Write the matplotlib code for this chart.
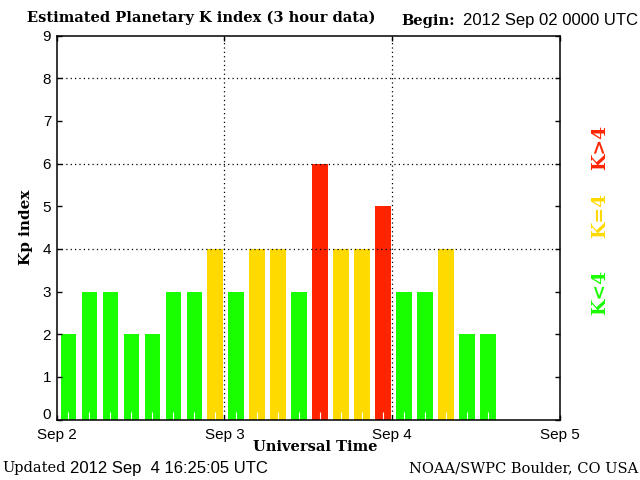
import matplotlib
matplotlib.use("Agg")
import matplotlib.pyplot as plt
import matplotlib.transforms as mtransforms
import numpy as np

# Data: Kp values per 3-hour interval starting 2012 Sep 02 00 UTC
kp_values = [2, 3, 3, 2, 2, 3, 3, 4,
             3, 4, 4, 3, 6, 4, 4, 5,
             3, 3, 4, 2, 2]
day_labels = ["Sep 2", "Sep 3", "Sep 4", "Sep 5"]
y_ticks = list(range(0, 10))

GREEN = "#19FF00"
YELLOW = "#FFDA00"
RED = "#FF2400"

def kp_color(v):
    if v < 4:
        return GREEN
    if v == 4:
        return YELLOW
    return RED

fig = plt.figure(figsize=(6.4, 4.8), dpi=100)
ax = fig.add_axes([56.7 / 640, 1 - 419.6 / 480, (560 - 56.7) / 640, (419.6 - 35.6) / 480])
ax.set_axisbelow(False)

hours = np.arange(len(kp_values)) * 3.0
colors = [kp_color(v) for v in kp_values]
ax.bar(hours + 0.19 * 3, kp_values, width=0.74 * 3, align="edge",
       color=colors, edgecolor="none", zorder=2)

ax.set_xlim(0, 72)
ax.set_ylim(0, 9)

# grid
for y in [4, 6, 8]:
    ax.axhline(y, color="black", lw=0.9, linestyle=(0, (1, 2.5)), zorder=3)
for x in [24, 48]:
    ax.axvline(x, color="black", lw=0.9, linestyle=(0, (1, 2.5)), zorder=3)

sans = "Liberation Sans"
serif = "DejaVu Serif"

ax.set_xticks([0, 24, 48, 72])
ax.set_xticklabels(day_labels, fontfamily=sans, fontsize=11)
ax.set_yticks(y_ticks)
ax.set_yticklabels([str(v) for v in y_ticks], fontfamily=sans, fontsize=11)
ax.tick_params(axis="both", direction="in", length=3.5, width=1, top=True, right=True,
               pad=4, colors="black")
ax.tick_params(axis="x", pad=6)
# white minor ticks at bar centres
ax.set_xticks(hours + 0.56 * 3, minor=True)
ax.tick_params(axis="x", which="minor", direction="in", length=5.5, width=0.8,
               color="white", top=False, bottom=True)
for spine in ax.spines.values():
    spine.set_linewidth(1.1)
    spine.set_zorder(4)

# nudge the "0" label upward
lbl0 = ax.get_yticklabels()[0]
lbl0.set_transform(lbl0.get_transform() + mtransforms.ScaledTranslation(0, 6 / 100, fig.dpi_scale_trans))

# texts
fig.text(27 / 640, 1 - 18 / 480, "Estimated Planetary K index (3 hour data)",
         fontfamily=serif, fontweight="bold", fontsize=10.5, va="center", ha="left")
fig.text(401 / 640, 1 - 21 / 480, "Begin:", fontfamily=serif, fontweight="bold",
         fontsize=10.5, va="center", ha="left")
fig.text(638 / 640, 1 - 21 / 480, "2012 Sep 02 0000 UTC", fontfamily=sans,
         fontsize=12, va="center", ha="right")
fig.text(315 / 640, 1 - 447 / 480, "Universal Time", fontfamily=serif, fontweight="bold",
         fontsize=10.5, va="center", ha="center")
fig.text(2 / 640, 1 - 468 / 480, "Updated", fontfamily=serif, fontweight="normal",
         fontsize=10.5, va="center", ha="left")
fig.text(70 / 640, 1 - 468 / 480, "2012 Sep  4 16:25:05 UTC", fontfamily=sans,
         fontsize=12, va="center", ha="left")
fig.text(638 / 640, 1 - 468 / 480, "NOAA/SWPC Boulder, CO USA", fontfamily=serif,
         fontsize=10.5, va="center", ha="right")
fig.text(26 / 640, 1 - 227 / 480, "Kp index", fontfamily=serif, fontweight="bold",
         fontsize=11, rotation=90, va="center", ha="center")

fig.text(600 / 640, 1 - 147.5 / 480, "K>4", color=RED, fontfamily=serif, fontweight="bold",
         fontsize=13.5, rotation=90, va="center", ha="center")
fig.text(600 / 640, 1 - 215.5 / 480, "K=4", color=YELLOW, fontfamily=serif, fontweight="bold",
         fontsize=13.5, rotation=90, va="center", ha="center")
fig.text(600 / 640, 1 - 292 / 480, "K<4", color=GREEN, fontfamily=serif, fontweight="bold",
         fontsize=13.5, rotation=90, va="center", ha="center")

fig.savefig("out.png", dpi=100)
